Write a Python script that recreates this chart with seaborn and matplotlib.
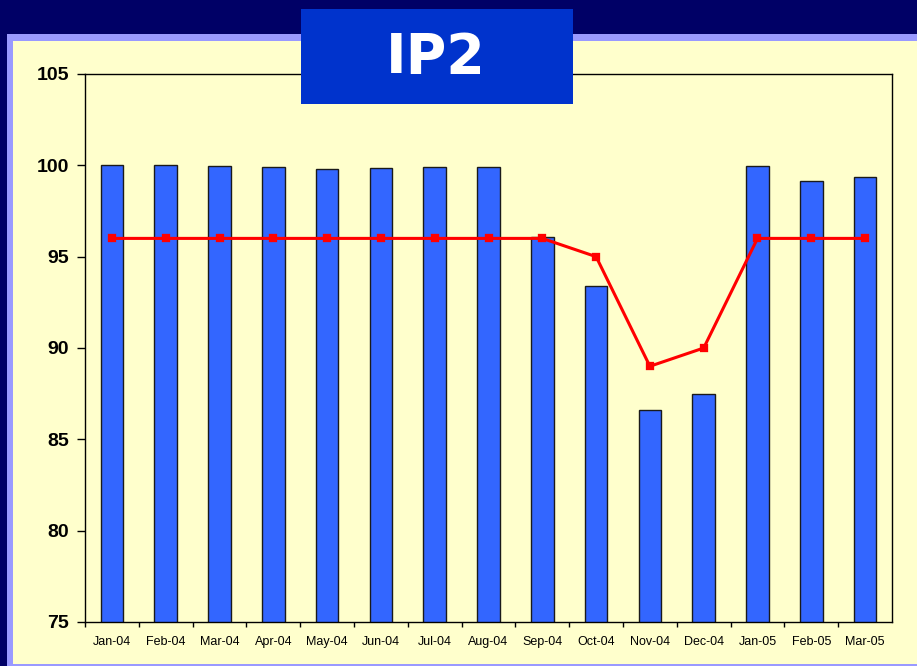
import numpy as np
import matplotlib
matplotlib.use("Agg")
import matplotlib.pyplot as plt
from matplotlib.patches import Rectangle
import seaborn as sns

# data
months = ["Jan-04", "Feb-04", "Mar-04", "Apr-04", "May-04", "Jun-04", "Jul-04", "Aug-04",
          "Sep-04", "Oct-04", "Nov-04", "Dec-04", "Jan-05", "Feb-05", "Mar-05"]
actual = [100.0, 100.0, 99.95, 99.9, 99.8, 99.85, 99.9, 99.9,
          96.05, 93.4, 86.6, 87.5, 99.95, 99.15, 99.35]
target = [96, 96, 96, 96, 96, 96, 96, 96, 96, 95, 89, 90, 96, 96, 96]
y_ticks = [75, 80, 85, 90, 95, 100, 105]

sns.set_theme(style="ticks")
plt.rcParams["font.family"] = ["Liberation Sans", "DejaVu Sans"]

W, H = 917, 666
fig = plt.figure(figsize=(W / 100, H / 100), dpi=100, facecolor="#000066")

# frame behind the chart
def px_rect(x0, y0, x1, y1, color, z):
    fig.patches.append(Rectangle((x0 / W, 1 - y1 / H), (x1 - x0) / W, (y1 - y0) / H,
                                 transform=fig.transFigure, facecolor=color,
                                 edgecolor="none", zorder=z))

px_rect(7, 34, W, H, "#9999ff", -10)
px_rect(13, 41, W, 664, "#ffffcc", -9)

ax = fig.add_axes([85 / W, 1 - 622 / H, (892 - 85) / W, (622 - 74) / H])
ax.set_facecolor("#ffffcc")

sns.barplot(x=months, y=actual, color="#3366ff", saturation=1, width=0.42,
            edgecolor="#1a1a1a", linewidth=1, ax=ax)
sns.pointplot(x=months, y=target, color="#ff0000", marker="s", markersize=5,
              linewidth=2.2, errorbar=None, ax=ax)

ax.set_ylim(75, 105)
ax.set_xlim(-0.5, 14.5)
ax.set_yticks(y_ticks)
ax.set_yticklabels([str(v) for v in y_ticks], fontsize=14, fontweight="bold", color="black")
ax.tick_params(axis="y", length=5.5, width=1, pad=6, color="black")

ax.set_xticks(np.arange(-0.5, 14, 1))
ax.set_xticklabels([])
ax.tick_params(axis="x", which="major", length=3.5, width=1, color="black")
ax.set_xticks(range(len(months)), minor=True)
ax.set_xticklabels(months, minor=True, fontsize=9, color="black")
ax.tick_params(axis="x", which="minor", length=0, pad=10)

ax.set_xlabel("")
ax.set_ylabel("")
for side in ["left", "right", "top", "bottom"]:
    ax.spines[side].set_visible(True)
    ax.spines[side].set_color("black")
    ax.spines[side].set_linewidth(1)

# title box
px_rect(301, 9, 573, 104, "#0033cc", 5)
fig.text(436 / W, 1 - 58 / H, "IP2", color="white", fontsize=40, fontweight="bold",
         family="DejaVu Sans", ha="center", va="center", zorder=6)

fig.savefig("out.png", dpi=100, facecolor=fig.get_facecolor())
